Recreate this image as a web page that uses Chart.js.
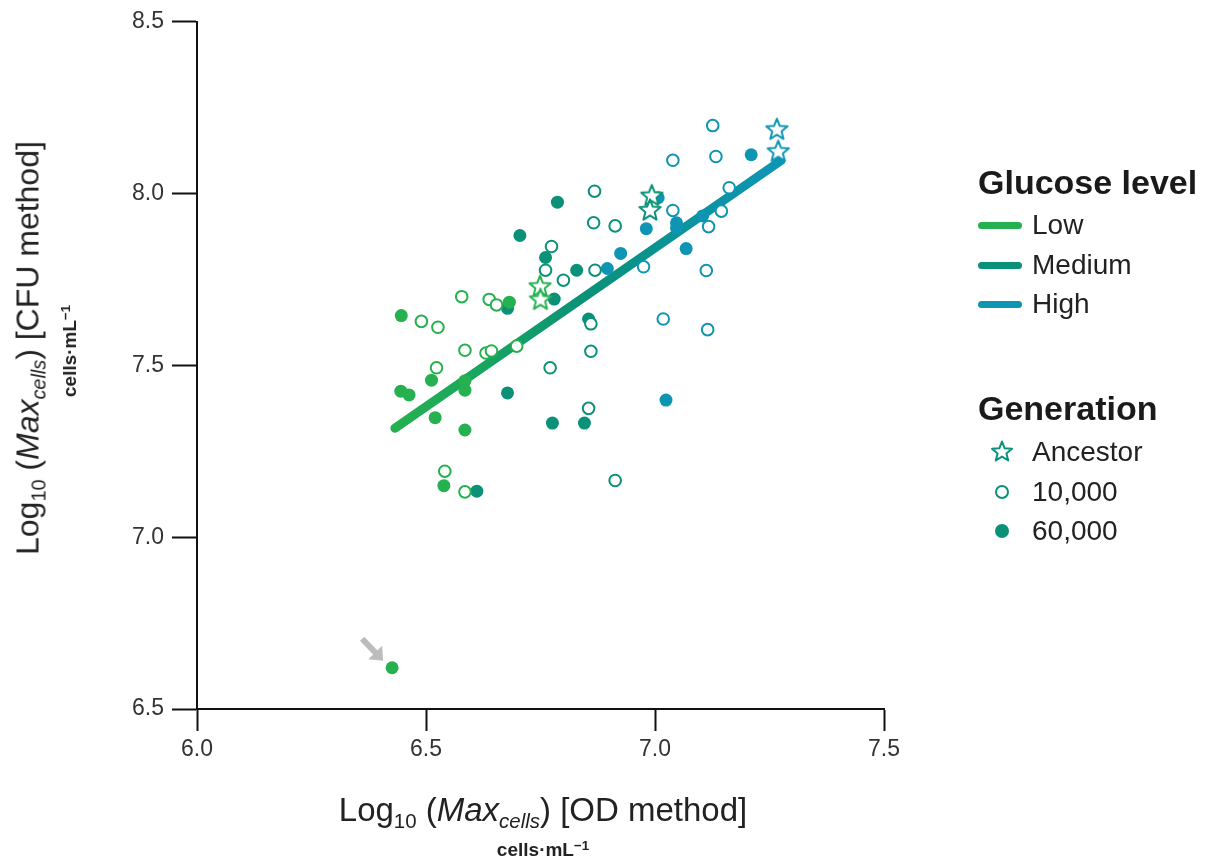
<!DOCTYPE html>
<html>
<head>
<meta charset="utf-8">
<script src="https://cdn.jsdelivr.net/npm/chart.js@4.4.1/dist/chart.umd.min.js"></script>
<style>
  html, body { margin: 0; padding: 0; background: #fff; }
  body { width: 1206px; height: 863px; position: relative; overflow: hidden;
         font-family: "Liberation Sans", Arial, sans-serif; color: #222; }
  #chart { position: absolute; left: 0; top: 0; }
  .title { position: absolute; white-space: nowrap; font-size: 32px; color: #222; }
  .title sub { font-size: 62%; vertical-align: -0.35em; line-height: 0; }
  .unit { position: absolute; white-space: nowrap; font-size: 19px; font-weight: bold; color: #222; }
  .unit sup { font-size: 70%; vertical-align: 0.45em; line-height: 0; }
  .rot { transform: translate(-50%, -50%) rotate(-90deg); }
  .ctr { transform: translate(-50%, -50%); }
  .legend { position: absolute; left: 978px; top: 0; }
  .lg-head { position: absolute; left: 0; font-size: 34px; font-weight: bold; white-space: nowrap;
             transform: translateY(-50%); color: #1a1a1a; }
  .lg-item { position: absolute; left: 0; white-space: nowrap; transform: translateY(-50%);
             font-size: 28px; display: flex; align-items: center; }
  .swatch { display: inline-block; width: 44px; height: 7px; border-radius: 4px; margin-right: 10px; }
  .mark { display: inline-block; width: 44px; height: 26px; margin-right: 10px; position: relative; }
  .mark svg { position: absolute; left: 11px; top: 0; }
</style>
</head>
<body>
<canvas id="chart" width="1206" height="863"></canvas>

<div class="title rot" style="left:28px; top:348px;">Log<sub>10</sub> (<i>Max<sub>cells</sub></i>) [CFU method]</div>
<div class="unit rot" style="left:70px; top:351px;">cells·mL<sup>−1</sup></div>
<div class="title ctr" style="left:543px; top:810px; font-size:33px;">Log<sub>10</sub> (<i>Max<sub>cells</sub></i>) [OD method]</div>
<div class="unit ctr" style="left:543px; top:850px;">cells·mL<sup>−1</sup></div>

<div class="legend">
  <div class="lg-head" style="top:182px;">Glucose level</div>
  <div class="lg-item" style="top:225px;"><span class="swatch" style="background:#25b14f"></span>Low</div>
  <div class="lg-item" style="top:265px;"><span class="swatch" style="background:#0a9178"></span>Medium</div>
  <div class="lg-item" style="top:304px;"><span class="swatch" style="background:#0f95b4"></span>High</div>
  <div class="lg-head" style="top:408px;">Generation</div>
  <div class="lg-item" style="top:452px;"><span class="mark"><svg width="26" height="26" viewBox="-13 -13 26 26"><polygon fill="#fff" stroke="#0a9178" stroke-width="2" stroke-linejoin="round" points="0,-10.5 2.7,-3.7 10,-3.2 4.4,1.4 6.2,8.5 0,4.6 -6.2,8.5 -4.4,1.4 -10,-3.2 -2.7,-3.7"/></svg></span>Ancestor</div>
  <div class="lg-item" style="top:492px;"><span class="mark"><svg width="26" height="26" viewBox="-13 -13 26 26"><circle cx="0" cy="0" r="6" fill="#fff" stroke="#0a9178" stroke-width="2"/></svg></span>10,000</div>
  <div class="lg-item" style="top:531px;"><span class="mark"><svg width="26" height="26" viewBox="-13 -13 26 26"><circle cx="0" cy="0" r="7" fill="#0a9178"/></svg></span>60,000</div>
</div>

<script>
// axis ticks
const xTicks = [6.0, 6.5, 7.0, 7.5];
const yTicks = [6.5, 7.0, 7.5, 8.0, 8.5];

// colours per glucose level
const lowColor = '#25b14f';
const medColor = '#0a9178';
const highColor = '#0f95b4';

// [OD, CFU] pairs
const lowAncestor = [[6.749, 7.730], [6.750, 7.692]];
const low10k = [[6.490, 7.628], [6.526, 7.611], [6.578, 7.700], [6.638, 7.692], [6.654, 7.676],
                [6.585, 7.544], [6.631, 7.536], [6.643, 7.542], [6.698, 7.556], [6.523, 7.493],
                [6.541, 7.192], [6.585, 7.132]];
const low60k = [[6.446, 7.645], [6.682, 7.684], [6.512, 7.457], [6.445, 7.425], [6.463, 7.414],
                [6.585, 7.455], [6.585, 7.428], [6.520, 7.348], [6.585, 7.312], [6.539, 7.150],
                [6.426, 6.620]];

const medAncestor = [[6.993, 7.994], [6.989, 7.952]];
const med10k = [[6.868, 8.007], [6.866, 7.915], [6.913, 7.906], [6.774, 7.846], [6.761, 7.777],
                [6.800, 7.748], [6.869, 7.777], [6.860, 7.621], [6.860, 7.541], [6.771, 7.493],
                [6.855, 7.375], [6.913, 7.165]];
const med60k = [[6.787, 7.975], [6.705, 7.878], [6.761, 7.814], [6.829, 7.777], [6.780, 7.693],
                [6.678, 7.666], [6.855, 7.635], [6.678, 7.420], [6.776, 7.332], [6.846, 7.332],
                [6.611, 7.134]];

const highAncestor = [[7.266, 8.187], [7.269, 8.123]];
const high10k = [[7.039, 7.951], [7.145, 7.949], [7.117, 7.904], [7.162, 8.017], [6.975, 7.787],
                 [7.112, 7.776], [7.018, 7.635], [7.115, 7.604], [7.126, 8.198], [7.039, 8.097],
                 [7.133, 8.108]];
const high60k = [[7.007, 7.988], [6.981, 7.898], [7.047, 7.915], [7.047, 7.900], [7.104, 7.935],
                 [6.896, 7.782], [6.925, 7.826], [7.068, 7.840], [7.024, 7.399], [7.210, 8.113]];

// fitted line end points
const fitX = [6.432, 7.275];
const fitY = [7.317, 8.096];

// outlier marked by the grey arrow (last point of low60k)
const outlierIndex = low60k.length - 1;

const toPts = arr => arr.map(p => ({ x: p[0], y: p[1] }));

function makeStar(color) {
    const c = document.createElement('canvas');
    c.width = 28; c.height = 28;
    const g = c.getContext('2d');
    g.translate(14, 14.5);
    g.beginPath();
    for (let i = 0; i < 10; i++) {
        const r = i % 2 === 0 ? 11.2 : 4.9;
        const a = -Math.PI / 2 + i * Math.PI / 5;
        g.lineTo(r * Math.cos(a), r * Math.sin(a));
    }
    g.closePath();
    g.fillStyle = '#fff';
    g.fill();
    g.lineWidth = 2;
    g.lineJoin = 'round';
    g.strokeStyle = color;
    g.stroke();
    return c;
}

function openSet(data, color) {
    return { type: 'scatter', data: toPts(data), pointStyle: 'circle', pointRadius: 5.8,
             pointBorderWidth: 2, borderColor: color, backgroundColor: '#fff', order: 1 };
}
function filledSet(data, color) {
    return { type: 'scatter', data: toPts(data), pointStyle: 'circle', pointRadius: 6.5,
             pointBorderWidth: 0, borderColor: color, backgroundColor: color, order: 1 };
}
function starSet(data, color) {
    return { type: 'scatter', data: toPts(data), pointStyle: makeStar(color), pointRadius: 12,
             borderColor: color, backgroundColor: color, order: 0 };
}

const arrowPlugin = {
    id: 'arrow',
    afterDatasetsDraw(chart) {
        const meta = chart.getDatasetMeta(2);
        const pt = meta.data[outlierIndex];
        if (!pt) return;
        const g = chart.ctx;
        const tipX = pt.x - 9, tipY = pt.y - 7;
        const tailX = pt.x - 30, tailY = pt.y - 29;
        const ang = Math.atan2(tipY - tailY, tipX - tailX);
        g.save();
        g.strokeStyle = '#bcbcbc';
        g.fillStyle = '#bcbcbc';
        g.lineWidth = 6;
        g.beginPath();
        g.moveTo(tailX, tailY);
        g.lineTo(tipX - 9 * Math.cos(ang), tipY - 9 * Math.sin(ang));
        g.stroke();
        g.beginPath();
        g.moveTo(tipX, tipY);
        g.lineTo(tipX - 15 * Math.cos(ang - 0.7), tipY - 15 * Math.sin(ang - 0.7));
        g.lineTo(tipX - 15 * Math.cos(ang + 0.7), tipY - 15 * Math.sin(ang + 0.7));
        g.closePath();
        g.fill();
        g.restore();
    }
};

new Chart(document.getElementById('chart'), {
    data: {
        datasets: [
            starSet(lowAncestor, lowColor),
            openSet(low10k, lowColor),
            filledSet(low60k, lowColor),
            starSet(medAncestor, medColor),
            openSet(med10k, medColor),
            filledSet(med60k, medColor),
            starSet(highAncestor, highColor),
            openSet(high10k, highColor),
            filledSet(high60k, highColor),
            {
                type: 'line',
                data: fitX.map((x, i) => ({ x: x, y: fitY[i] })),
                borderWidth: 9,
                borderCapStyle: 'round',
                pointRadius: 0,
                order: 5,
                borderColor: ctx => {
                    const chart = ctx.chart;
                    if (!chart.chartArea) return medColor;
                    const xs = chart.scales.x;
                    const x0 = xs.getPixelForValue(fitX[0]);
                    const x1 = xs.getPixelForValue(fitX[1]);
                    const grad = chart.ctx.createLinearGradient(x0, 0, x1, 0);
                    grad.addColorStop(0, lowColor);
                    grad.addColorStop(0.22, '#18a560');
                    grad.addColorStop(0.5, medColor);
                    grad.addColorStop(0.78, '#0c93a0');
                    grad.addColorStop(1, highColor);
                    return grad;
                }
            }
        ]
    },
    options: {
        responsive: false,
        animation: false,
        layout: { padding: { left: 0, top: 18, right: 322, bottom: 0 } },
        plugins: { legend: { display: false }, tooltip: { enabled: false } },
        scales: {
            x: {
                type: 'linear', min: 6.0, max: 7.5,
                afterBuildTicks: s => { s.ticks = xTicks.map(v => ({ value: v })); },
                afterFit: s => { s.height = 154; },
                grid: { drawOnChartArea: false, drawTicks: true, tickLength: 22, tickWidth: 2, tickColor: '#111' },
                border: { display: true, color: '#111', width: 2 },
                ticks: { padding: 5, color: '#333', font: { family: '"Liberation Sans", Arial, sans-serif', size: 23 },
                         callback: v => Number(v).toFixed(1) }
            },
            y: {
                type: 'linear', min: 6.5, max: 8.5,
                afterBuildTicks: s => { s.ticks = yTicks.map(v => ({ value: v })); },
                afterFit: s => { s.width = 197; },
                grid: { drawOnChartArea: false, drawTicks: true, tickLength: 25, tickWidth: 2, tickColor: '#111' },
                border: { display: true, color: '#111', width: 2 },
                ticks: { padding: 8, color: '#333', font: { family: '"Liberation Sans", Arial, sans-serif', size: 23 },
                         callback: v => Number(v).toFixed(1) }
            }
        }
    },
    plugins: [arrowPlugin]
});
</script>
</body>
</html>
